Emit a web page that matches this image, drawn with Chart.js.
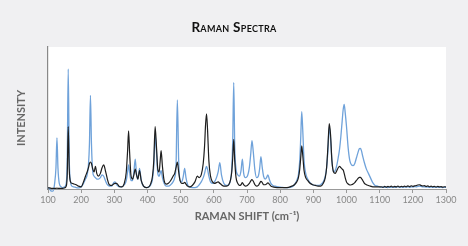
<!DOCTYPE html>
<html>
<head>
<meta charset="utf-8">
<script src="https://cdn.jsdelivr.net/npm/chart.js@4/dist/chart.umd.min.js"></script>
<style>
  html, body { margin: 0; padding: 0; background: #f0f0f2; }
  #wrap { position: relative; width: 468px; height: 246px; }
  #title {
    position: absolute; left: 0; top: 19px; width: 468px; text-align: center;
    font-family: Lato, "Noto Sans", sans-serif; font-weight: 700; font-size: 13.5px;
    font-variant: small-caps; letter-spacing: 0.3px; color: #111;
  }
</style>
</head>
<body>
<div id="wrap">
  <div id="title">Raman Spectra</div>
  <canvas id="chart" width="468" height="246"></canvas>
</div>
<script>
// Raman shift (cm-1) grid shared by both spectra
const shift = [
  100,105,110,115,120,124,127,130,134,140,
  145,150,155,158,161,164,168,172,178,185,
  192,200,207,213,218,222,225,228,231,235,
  239,243,247,252,258,263,268,273,279,285,
  292,298,302,307,314,322,330,336,340,343,
  346,350,355,359,363,367,371,376,381,388,
  396,404,410,415,419,423,427,431,435,438,
  441,445,450,456,463,470,477,482,486,490,
  494,498,503,508,512,516,521,527,535,543,
  550,556,562,568,572,575,578,581,585,590,
  596,602,608,613,618,623,630,638,645,650,
  654,657,660,663,667,672,677,682,686,690,
  695,701,707,711,715,719,724,729,734,738,
  742,746,750,755,759,763,767,772,778,785,
  795,805,815,825,835,843,850,855,859,862,
  865,868,872,877,883,890,898,906,914,922,
  930,936,940,944,948,952,956,961,966,971,
  975,979,983,987,990,993,996,1000,1005,1010,
  1015,1020,1025,1030,1035,1039,1042,1045,1049,1054,
  1060,1066,1072,1079,1086,1094,1100,1105,1110,1115,
  1120,1125,1130,1135,1140,1145,1150,1155,1160,1165,
  1170,1175,1180,1185,1190,1195,1200,1205,1210,1215,
  1220,1225,1230,1235,1240,1245,1250,1255,1260,1265,
  1270,1275,1280,1285,1290,1295,1300
];

// blue spectrum intensity
const blueSpectrum = [
  1,0,-1.5,-1.5,4,15,36,15,4,1.5,
  1,1.5,4,20,84.5,22,5,2,1.5,1,
  0.8,1.5,4,7,10,17,32,66,32,12,
  9,8,7,7,8,10,9,6,3,2,
  2,4.5,5,3,1.5,1.5,3,6,12,17,
  12,6,6,12,21,10,7,14.5,6,2,
  1,1.5,3,7,16,38,26,11,9,11,
  13,8,4,2,2,3,5,8,16,62.7,
  20,6,5,9,14.5,8,3,1.5,1,1,
  1.5,3,5,8,11,14,16,14,9,5,
  4,5,8,12,18.5,10,4,2.5,3,6,
  14,35,75,30,14,10,9,13,21,11,
  8,9,15,24,34,26,13,8,9,14,
  22.7,15,9,7,8,10,7,4,2.5,2,
  1.5,1.2,1,1,1.5,3,6,10,20,36,
  54.5,42,20,11,7,4.5,3,2.5,2.5,3,
  5,9,15,27,44,35,20,12,13,17,
  22,28,37,48,56,59.6,54,44,29,20,
  17,16.5,18,22,26,28.5,28.6,27,23,18.5,
  14,11,8,4.5,2.5,2,1.5,1.2,1.4,1.1,
  1.3,1.0,1.4,1.2,1.5,1.1,1.3,1.6,1.2,1.4,
  1.2,1.5,1.3,1.6,1.2,1.5,1.4,1.7,1.5,1.8,
  2,1.8,1.5,1.6,1.3,1.5,1.2,1.4,1.1,1.3,
  1.2,1.4,1.1,1.3,1.0,1.2,1.1
];

// black spectrum intensity
const blackSpectrum = [
  0.8,0.8,0.5,0.5,0.5,0.5,0.6,0.5,0.5,0.5,
  0.5,0.8,2,10,44,14,5,4,3.5,3,
  2,1.5,5,9,12,15,18,19,18,14,
  12,16,11,9,11,15,17,13,7,3,
  2.5,3.5,4,4,2,1.5,4,12,27,41,
  26,10,7,10,14,10,7,13,6,2,
  1,1.5,4,9,20,44,30,14,12,19,
  27,16,6,3.5,4,6,9,11,15,19,
  12,6,4,4,4.7,3.5,2,1.5,2.5,5,
  9,8,10,18,30,45,53,42,20,9,
  5,4,4.5,5,4,3,2,2,3,6,
  12,22,35,20,8,4,2.5,3,4.5,3,
  2,2.5,4,5.5,6.6,5.5,3,2,2.5,4,
  5.3,4.5,3,3,3.5,4.4,3.5,2,1.5,1.2,
  1,1,1,1.2,2,3,5,8,14,22,
  30.3,24,13,8,6,4,3,2.5,2,2,
  4,8,15,30,46,38,20,12,11,13,
  15,16,15,14,13.3,11,8,5,3.5,2.8,
  3,3.5,4.5,6,7.5,8.2,8.2,7.5,6,4,
  3,2.5,2,1.5,1.5,1.5,1.5,1.6,1.2,1.8,
  1.3,1.9,1.4,2,1.3,1.8,1.5,2.1,1.4,1.9,
  1.5,2,1.6,2.2,1.7,2.3,1.8,2.2,2.4,2.8,
  3,2.5,2.1,2.4,1.8,2.2,1.6,2,1.5,1.9,
  1.4,1.8,1.5,1.7,1.3,1.6,1.4
];

const xTicks = [100,200,300,400,500,600,700,800,900,1000,1100,1200,1300];

function toPoints(ys) {
  return shift.map((x, i) => ({ x: x, y: ys[i] }));
}

// white plot background
const plotBg = {
  id: 'plotBg',
  beforeDraw(chart) {
    const a = chart.chartArea;
    const c = chart.ctx;
    c.save();
    c.fillStyle = '#ffffff';
    c.fillRect(a.left, a.top, a.right - a.left, a.bottom - a.top);
    c.restore();
  }
};

const ctx = document.getElementById('chart').getContext('2d');
new Chart(ctx, {
  type: 'line',
  data: {
    datasets: [
      {
        label: 'black',
        data: toPoints(blackSpectrum),
        borderColor: '#1e1e1e',
        borderWidth: 1.2,
        pointRadius: 0,
        cubicInterpolationMode: 'monotone',
        clip: 4
      },
      {
        label: 'blue',
        data: toPoints(blueSpectrum),
        borderColor: '#6fa2da',
        borderWidth: 1.3,
        pointRadius: 0,
        cubicInterpolationMode: 'monotone',
        clip: 4
      }
    ]
  },
  options: {
    responsive: false,
    animation: false,
    layout: { padding: { top: 47, right: 22, left: 0, bottom: 0 } },
    plugins: {
      legend: { display: false },
      tooltip: { enabled: false }
    },
    scales: {
      x: {
        type: 'linear',
        min: 100,
        max: 1300,
        afterBuildTicks(scale) {
          scale.ticks = xTicks.map(v => ({ value: v }));
        },
        afterFit(scale) { scale.height = 57; },
        border: { color: '#999', width: 1 },
        grid: { drawOnChartArea: false, tickLength: 4, color: '#999' },
        ticks: {
          padding: 2,
          color: '#888',
          font: { family: 'Lato', size: 9 },
          maxRotation: 0,
          callback: v => String(v)
        },
        title: {
          display: true,
          text: 'RAMAN SHIFT (cm⁻¹)',
          color: '#666',
          font: { family: 'Lato', size: 11, weight: 'bold' },
          padding: { top: 0, bottom: 23 }
        }
      },
      y: {
        min: 0,
        max: 100,
        afterFit(scale) { scale.width = 48; },
        border: { color: '#888', width: 1.2 },
        grid: { display: false },
        ticks: { display: false },
        title: {
          display: true,
          text: 'INTENSITY',
          color: '#666',
          font: { family: 'Lato', size: 11, weight: 'bold' },
          padding: { top: 15, bottom: 0 }
        }
      }
    }
  },
  plugins: [plotBg]
});
</script>
</body>
</html>
